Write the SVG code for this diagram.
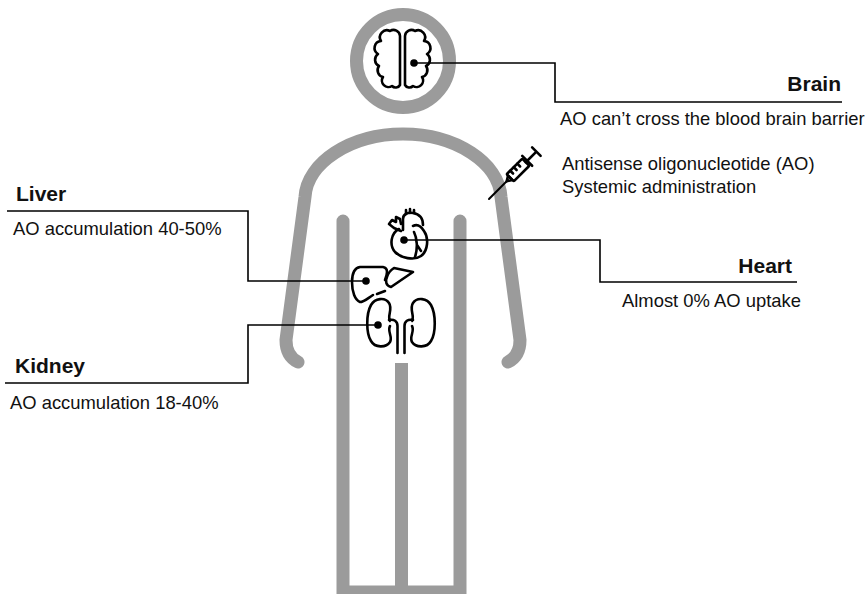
<svg xmlns="http://www.w3.org/2000/svg" width="867" height="594" viewBox="0 0 867 594">
  <style>
    .body { fill: none; stroke: #9b9b9b; stroke-width: 13; }
    .icon { fill: none; stroke: #000; stroke-width: 2.6; stroke-linecap: round; stroke-linejoin: round; }
    .thin { stroke-width: 2; }
    .dot { fill: #000; }
    .conn { fill: none; stroke: #000; stroke-width: 1.6; }
    .lbl { font-family: "Liberation Sans", Arial, Helvetica, sans-serif; font-size: 18.4px; fill: #111; }
    .ttl { font-weight: bold; font-size: 21px; }
  </style>
  <defs>
    <!-- one brain hemisphere: bumpy outer edge, straight inner edge -->
    <path id="hemi" d="M400 36 A6.5 6.5 0 0 0 390 31 A7 7 0 0 0 381 41 A7 7 0 0 0 378 54 A7 7 0 0 0 379 66 A7 7 0 0 0 383 77 A6.5 6.5 0 0 0 392 86 A5 5 0 0 0 400 85 Z"/>
    <!-- one kidney with its ureter -->
    <path id="kid" d="M390 321 C387 316 393 309 389 303 C385 297 375 298 371 305 C366 314 366 333 371 341 C375 348 386 348 390 342 C393 337 387 331 390 326 M389 320 C394 319 397.5 321 397.5 326 L397.5 353"/>
  </defs>

  <!-- figure outline -->
  <g id="figure">
    <circle class="body" cx="403" cy="61" r="46.5"/>
    <path class="body" stroke-linecap="round" d="M298 362 Q286 356 286 340 L305 197 C307 163 350 134 403 134 C456 134 499 163 501 197 L520 340 Q520 356 508 362"/>
    <path class="body" stroke-linecap="round" stroke-linejoin="miter" d="M343 221 L343 592 L460 592 L460 221"/>
    <path class="body" d="M401.5 363 L401.5 594"/>
  </g>

  <!-- connectors -->
  <g id="connectors">
    <path class="conn" d="M414 63 H555 V102 H842"/>
    <path class="conn" d="M404 240 H600 V282 H797"/>
    <path class="conn" d="M366 281 H248 V211 H7"/>
    <path class="conn" d="M378 325 H248 V383 H5"/>
  </g>

  <g id="brain">
    <use href="#hemi" class="icon"/>
    <use href="#hemi" class="icon" transform="translate(805 0) scale(-1 1)"/>
    <circle class="dot" cx="414" cy="63" r="3.8"/>
  </g>

  <g id="syringe" class="icon" transform="translate(489 199) rotate(-45)">
    <path class="thin" d="M0 0 L25 0"/>
    <path d="M25 0 L30 -3 L30 3 Z"/>
    <rect x="30" y="-5" width="22" height="10" rx="1"/>
    <path d="M35 -5 V-1 M40 -5 V-1 M45 -5 V-1"/>
    <path d="M54 -7 V7 M52 0 H66 M67 -6 V6"/>
  </g>

  <g id="heart" class="icon">
    <path d="M399 229 C391 233 389 245 395 252 C401 258 414 261 421 256 C428 251 429 238 424 231 C421 226 417 224 413 226"/>
    <path d="M403 230 L403 219 C403 214 408 212 413 213 C419 214 423 218 423 225"/>
    <path d="M406 214 V210 M410 213 V209 M414 213 V210"/>
    <path d="M401 231 L394 228 L389 224 L392 220 L396 222 L396 217 L400 219 L401 224"/>
    <path d="M414 232 C417 238 418 248 415 257 M417 245 L421 251"/>
    <circle class="dot" cx="404" cy="240" r="3.8" stroke="none"/>
  </g>

  <g id="liver" class="icon">
    <path d="M385 280 C387 275 389 268 383 267 L360 267 C354 268 352 274 352 282 C352 292 355 300 360 302 C364 302 368 298 373 295"/>
    <path d="M377 294 L385 291"/>
    <path d="M394 268 L413 272 L391 287 C386 286 385 281 387 277 C388 273 391 270 394 268 Z"/>
    <circle class="dot" cx="366" cy="281" r="3.8" stroke="none"/>
  </g>

  <g id="kidney">
    <use href="#kid" class="icon"/>
    <use href="#kid" class="icon" transform="translate(802 0) scale(-1 1)"/>
    <circle class="dot" cx="378" cy="325" r="3.8"/>
  </g>

  <g id="labels">
    <text class="lbl ttl" x="841" y="91" text-anchor="end">Brain</text>
    <text class="lbl" x="560" y="125">AO can’t cross the blood brain barrier</text>
    <text class="lbl" x="562" y="170">Antisense oligonucleotide (AO)</text>
    <text class="lbl" x="562" y="193">Systemic administration</text>
    <text class="lbl ttl" x="792" y="273" text-anchor="end">Heart</text>
    <text class="lbl" x="622" y="307">Almost 0% AO uptake</text>
    <text class="lbl ttl" x="16" y="201">Liver</text>
    <text class="lbl" x="13" y="235">AO accumulation 40-50%</text>
    <text class="lbl ttl" x="15" y="373">Kidney</text>
    <text class="lbl" x="10" y="409">AO accumulation 18-40%</text>
  </g>
</svg>
